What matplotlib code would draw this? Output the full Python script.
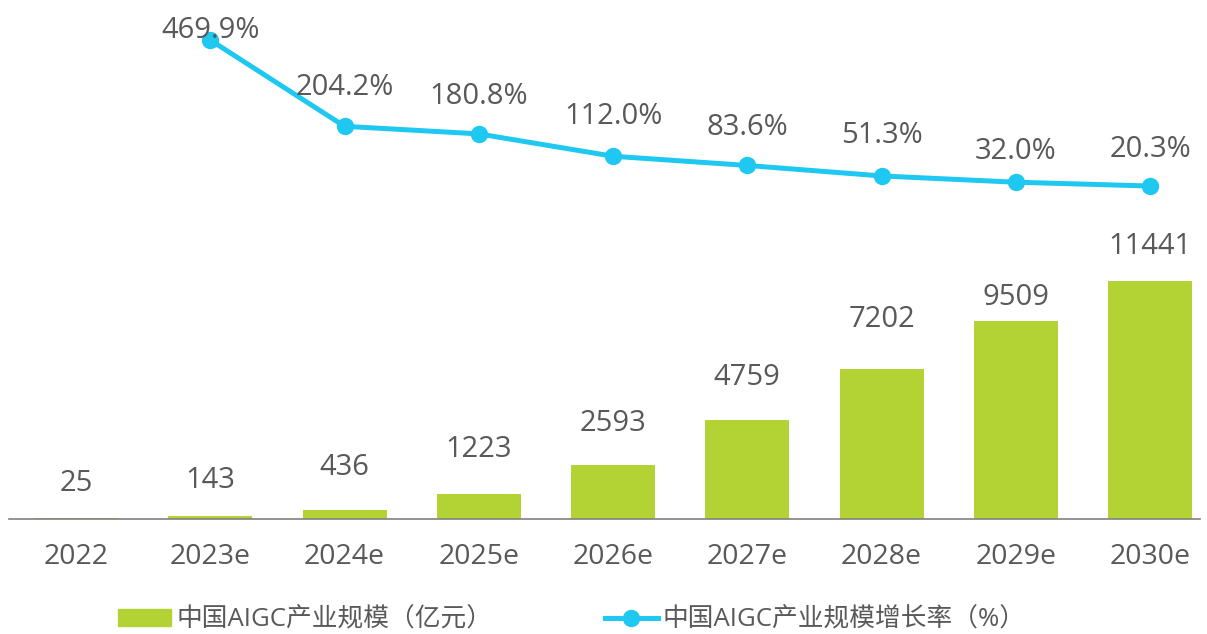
import matplotlib
matplotlib.use('Agg')
import matplotlib.pyplot as plt
import numpy as np

# data
years = ['2022', '2023e', '2024e', '2025e', '2026e', '2027e', '2028e', '2029e', '2030e']
scale = [25, 143, 436, 1223, 2593, 4759, 7202, 9509, 11441]
growth_years = years[1:]
growth = [469.9, 204.2, 180.8, 112.0, 83.6, 51.3, 32.0, 20.3]

bar_label_off = [35, 36, 42, 44, 42, 43, 50, 24, 35]
line_label_off = [10, 39, 37, 40, 38, 40, 31, 37]

plt.rcParams['font.family'] = ['Open Sans', 'Noto Sans CJK SC', 'DejaVu Sans']
txt = '#595959'
green = '#B3D234'
cyan = '#1FC8F0'

fig = plt.figure(figsize=(12.07, 6.34), dpi=100)
W, H = 1207, 634
ax = fig.add_axes([9 / W, (H - 519) / H, (1200 - 9) / W, 519 / H])
x = np.arange(len(years))
ax.bar(x, scale, width=84 / 134.25, color=green, zorder=2)
ax.set_xlim((9 - 76) / 134.25, (1200 - 76) / 134.25)
ax.set_ylim(0, 519 / 0.0208)
for s in ['top', 'right', 'left']:
    ax.spines[s].set_visible(False)
ax.spines['bottom'].set_color('#808080')
ax.spines['bottom'].set_linewidth(1.2)
ax.set_yticks([])
ax.set_xticks(x)
ax.set_xticklabels(years, fontsize=20.5, color=txt)
ax.tick_params(axis='x', length=0, pad=17)
for xi, v, off in zip(x, scale, bar_label_off):
    ax.annotate(str(v), (xi, v), xytext=(0, off / 1.389), textcoords='offset points',
                ha='center', va='center', fontsize=21, color=txt)

ax2 = ax.twinx()
ax2.set_ylim(-326.4 / 0.3247, (519 - 326.4) / 0.3247)
ax2.axis('off')
xg = np.arange(1, len(years))
ax2.plot(xg, growth, color=cyan, lw=3.6, marker='o', ms=11.5, zorder=3)
for xi, v, off in zip(xg, growth, line_label_off):
    ax2.annotate('%.1f%%' % v, (xi, v), xytext=(0, off / 1.389), textcoords='offset points',
                 ha='center', va='center', fontsize=21, color=txt)
ax2.set_xlim(ax.get_xlim())

from matplotlib.patches import Patch
from matplotlib.lines import Line2D
handles = [Patch(color=green),
           Line2D([], [], color=cyan, lw=3.6, marker='o', ms=11.5)]
labels = ['中国AIGC产业规模（亿元）', '中国AIGC产业规模增长率（%）']
leg = fig.legend(handles, labels, loc='center', bbox_to_anchor=(0.474, (H - 620) / H),
                 ncol=2, frameon=False, fontsize=18.5, handlelength=2.05, handleheight=0.65,
                 handletextpad=0.2, columnspacing=4.4, labelcolor=txt)

fig.savefig('out.png', dpi=100)
